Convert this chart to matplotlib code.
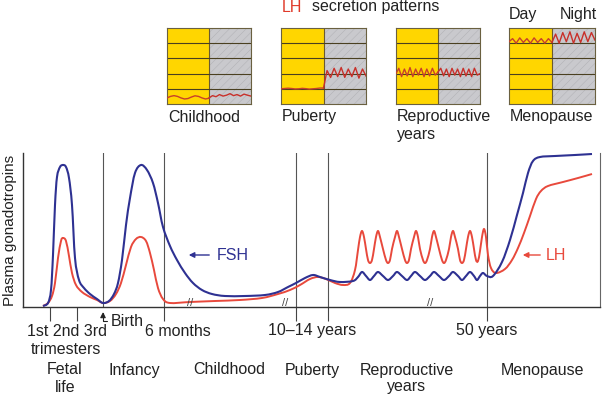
import numpy as np
import matplotlib
matplotlib.use("Agg")
import matplotlib.pyplot as plt
from matplotlib.path import Path
from matplotlib.patches import PathPatch, Rectangle

plt.rcParams['font.family'] = ['Liberation Sans', 'DejaVu Sans']
plt.rcParams['hatch.linewidth'] = 0.4

W, H = 604, 398

# ---------------- data (chart units: x = timeline position, y = level) ----------------
FSH_X = [43, 48, 51, 53, 55, 57, 60, 63, 66, 69, 72, 75, 79, 84, 90, 97, 103, 109, 114, 118,
         122, 126, 130, 135, 141, 147, 153, 158, 163, 170, 177, 185, 193, 202, 212, 225, 245,
         265, 278, 288, 296, 305, 313, 320, 330, 340, 353, 358, 362, 366, 370, 374, 378, 383,
         388, 393, 397, 402, 407, 411, 415, 420, 425, 430, 434, 439, 444, 449, 453, 458, 462,
         466, 470, 474, 477, 480, 483, 487, 493, 502, 510, 517, 523, 528, 533, 540, 555, 575, 592]
FSH_Y = [1, 4, 17, 52, 102, 130, 140, 142, 140, 129, 102, 49, 27, 19, 13, 8, 4, 6, 13, 24,
         47, 82, 109, 134, 142, 137, 124, 104, 80, 61, 47, 34, 24, 17, 13, 11, 11,
         12, 15, 20, 24, 29, 32, 30, 27, 25, 26, 30, 35, 31, 27, 31, 35, 31,
         27, 31, 35, 31, 27, 31, 35, 31, 27, 31, 35, 31, 27, 31, 35, 31, 27,
         31, 35, 31, 27, 31, 34, 31, 31, 45, 67, 92, 114, 134, 146, 150, 151, 152, 153]

LH_X = [43, 48, 52, 55, 58, 61, 63, 66, 69, 72, 76, 82, 90, 97, 103, 110, 116, 121, 126, 131,
        136, 141, 146, 150, 154, 158, 163, 170, 190, 215, 240, 262, 278, 290, 300, 310, 318,
        326, 335, 343, 350, 355, 358, 360, 362, 364, 366, 368, 370, 372, 374, 376, 378, 380,
        383, 386, 388, 390, 392, 395, 397, 399, 402, 405, 407, 409, 411, 414, 416, 418, 420,
        423, 425, 427, 430, 432, 434, 436, 439, 442, 444, 446, 449, 451, 453, 455, 458, 460,
        462, 464, 466, 468, 470, 472, 474, 476, 478, 480, 482, 484, 486, 488, 491, 496,
        505, 512, 518, 524, 530, 536, 541, 548, 563, 578, 592]
LH_Y = [1, 4, 11, 24, 49, 66, 69, 66, 51, 34, 22, 15, 10, 7, 4, 6, 13, 24, 42, 60,
        68, 70, 66, 54, 37, 19, 8, 4, 5, 6, 7, 9, 13, 17, 22, 28, 30,
        28, 24, 22, 24, 37, 57, 70, 76, 70, 58, 47, 44, 47, 58, 70, 76, 70,
        58, 47, 44, 47, 58, 70, 76, 70, 58, 47, 44, 47, 58, 70, 76, 70, 58,
        47, 44, 47, 58, 70, 76, 70, 58, 47, 44, 47, 58, 70, 76, 70, 58, 47,
        44, 47, 58, 70, 76, 70, 58, 47, 46, 56, 70, 78, 70, 52, 39, 34,
        38, 47, 59, 74, 91, 108, 116, 121, 125, 129, 133]

DIVIDERS = [103, 164, 296, 328, 487]
TICKS = [50, 77, 164, 296, 328, 487]
BREAKS = [190, 285, 430]

# LH secretion patterns (row units 0..5), day then night
CHILD_DAY = [0.40, 0.50, 0.55, 0.50, 0.40, 0.33, 0.36, 0.46, 0.54, 0.50, 0.40, 0.33, 0.38]
CHILD_NIGHT = [0.40, 0.55, 0.48, 0.62, 0.52, 0.58, 0.68, 0.55, 0.62, 0.52, 0.65, 0.58, 0.52]
PUB_DAY = [1.00, 1.02, 1.04, 1.02, 0.99, 1.00, 1.03, 1.01, 0.98, 1.00, 1.02, 1.05, 1.05]
PUB_NIGHT = [1.05, 2.20, 1.75, 2.35, 1.80, 2.40, 1.75, 2.30, 1.80, 2.40, 1.70, 2.30, 1.85]
REP_DAY = [2.00, 2.35, 1.80, 2.30, 1.85, 2.40, 1.80, 2.30, 1.90, 2.35, 1.80, 2.30, 1.85, 2.35, 1.90, 2.10]
REP_NIGHT = [2.10, 2.35, 1.85, 2.30, 1.80, 2.35, 1.90, 2.30, 1.80, 2.35, 1.85, 2.30, 1.80, 2.35, 1.90, 2.00]
MEN_DAY = [4.10, 4.30, 4.00, 4.35, 4.05, 4.30, 4.00, 4.35, 4.05, 4.30, 4.00, 4.30, 4.05]
MEN_NIGHT = [4.05, 4.60, 4.00, 4.70, 4.10, 4.75, 4.00, 4.65, 4.05, 4.75, 4.10, 4.70, 4.20]

PANELS = [(["Childhood"], 167, 251, CHILD_DAY, CHILD_NIGHT),
          (["Puberty"], 281, 366, PUB_DAY, PUB_NIGHT),
          (["Reproductive", "years"], 396, 480, REP_DAY, REP_NIGHT),
          (["Menopause"], 509, 595, MEN_DAY, MEN_NIGHT)]

FSH_C = '#2e3192'
LH_C = '#e8493c'
TXT_C = '#222222'
FS = 11.5


def smooth_path(xs, ys):
    pts = np.column_stack([xs, ys]).astype(float)
    verts = [pts[0]]
    codes = [Path.MOVETO]
    n = len(pts)
    for i in range(n - 1):
        p0 = pts[i - 1] if i > 0 else pts[i]
        p1, p2 = pts[i], pts[i + 1]
        p3 = pts[i + 2] if i + 2 < n else pts[i + 1]
        verts += [p1 + (p2 - p0) / 6.0, p2 - (p3 - p1) / 6.0, p2]
        codes += [Path.CURVE4] * 3
    return Path(verts, codes)


def ftext(x, y, s, **kw):
    kw.setdefault('color', TXT_C)
    kw.setdefault('fontsize', FS)
    kw.setdefault('va', 'center')
    return fig.text(x / W, 1 - y / H, s, **kw)


fig = plt.figure(figsize=(W / 100, H / 100), dpi=100)
fig.patch.set_facecolor('white')

# ---------------- main chart ----------------
x0, x1, ytop, ybot = 23, 600, 153, 307
ax = fig.add_axes([x0 / W, 1 - ybot / H, (x1 - x0) / W, (ybot - ytop) / H])
ax.set_xlim(x0, x1)
ax.set_ylim(0, ybot - ytop)
ax.spines['top'].set_visible(False)
ax.spines['right'].set_color('#666666')
ax.spines['right'].set_linewidth(0.8)
for s in ['left', 'bottom']:
    ax.spines[s].set_color('#333333')
    ax.spines[s].set_linewidth(1.0)
ax.set_yticks([])
ax.set_xticks(TICKS)
ax.set_xticklabels([])
ax.tick_params(axis='x', length=10, width=0.8, color='#444444', direction='out')
for d in DIVIDERS:
    ax.axvline(d, color='#555555', lw=0.8, zorder=1)

ax.add_patch(PathPatch(smooth_path(LH_X, LH_Y), fill=False, edgecolor=LH_C, lw=1.4, zorder=3))
ax.add_patch(PathPatch(smooth_path(FSH_X, FSH_Y), fill=False, edgecolor=FSH_C, lw=1.5, zorder=4))

for bx in BREAKS:
    ax.text(bx, 4, '//', ha='center', va='center', fontsize=8, color='#444444', zorder=5)

# labels for curves
ax.annotate('', xy=(186, 52), xytext=(212, 52),
            arrowprops=dict(arrowstyle='-|>', color=FSH_C, lw=1.0, mutation_scale=8))
ax.text(217, 52, 'FSH', color=FSH_C, fontsize=FS, va='center', ha='left')
ax.annotate('', xy=(520, 52), xytext=(543, 52),
            arrowprops=dict(arrowstyle='-|>', color=LH_C, lw=1.0, mutation_scale=8))
ax.text(546, 52, 'LH', color=LH_C, fontsize=FS, va='center', ha='left')

# Birth arrow
ax.annotate('Birth', xy=(103, -5), xytext=(111, -14), annotation_clip=False,
            fontsize=FS, color=TXT_C, va='center', ha='left',
            arrowprops=dict(arrowstyle='-|>', color='#222222', lw=0.8, mutation_scale=8,
                            connectionstyle='angle,angleA=0,angleB=90,rad=0',
                            shrinkA=1, shrinkB=0))

ftext(10, 230, 'Plasma gonadotropins', rotation=90, ha='center', fontsize=11)

# axis labels below
ftext(67, 331, '1st 2nd 3rd', ha='center')
ftext(66, 349, 'trimesters', ha='center')
ftext(178, 331, '6 months', ha='center')
ftext(312, 331, '10\u201314 years', ha='center')
ftext(487, 331, '50 years', ha='center')
ftext(65, 370, 'Fetal', ha='center')
ftext(65, 388, 'life', ha='center')
ftext(134, 370, 'Infancy', ha='center')
ftext(229, 370, 'Childhood', ha='center')
ftext(312, 370, 'Puberty', ha='center')
ftext(407, 370, 'Reproductive', ha='center')
ftext(407, 387, 'years', ha='center')
ftext(542, 370, 'Menopause', ha='center')

# ---------------- LH secretion pattern panels ----------------
ptop, pbot = 28, 104
for label_lines, px0, px1, day, night in PANELS:
    pax = fig.add_axes([px0 / W, 1 - pbot / H, (px1 - px0) / W, (pbot - ptop) / H])
    pax.set_xlim(0, 2)
    pax.set_ylim(0, 5)
    pax.add_patch(Rectangle((0, 0), 1, 5, facecolor='#ffd600', edgecolor='none', zorder=0))
    pax.add_patch(Rectangle((1, 0), 1, 5, facecolor='#c9c9cd', edgecolor='#b3b3b7',
                            hatch='////', lw=0, zorder=0))
    pax.axvline(1, color='#6a5a30', lw=0.8, zorder=1)
    for r in [1, 2, 3, 4]:
        pax.axhline(r, color='#4a4020', lw=0.8, zorder=1)
    pax.plot(np.linspace(0, 1, len(day)), day, color='#c8402a', lw=1.0, zorder=3)
    pax.plot(np.linspace(1, 2, len(night)), night, color='#c8302a', lw=1.0, zorder=3)
    pax.set_xticks([])
    pax.set_yticks([])
    for s in pax.spines.values():
        s.set_color('#6a6040')
        s.set_linewidth(0.8)
    for k, line in enumerate(label_lines):
        ftext(px0 + 1, 117 + 17 * k, line, ha='left')

ftext(282, 7, 'LH', color='#e03a2a', ha='left')
ftext(312, 7, 'secretion patterns', ha='left')
ftext(523, 15, 'Day', ha='center')
ftext(578, 15, 'Night', ha='center')

fig.savefig('out.png', dpi=100)
